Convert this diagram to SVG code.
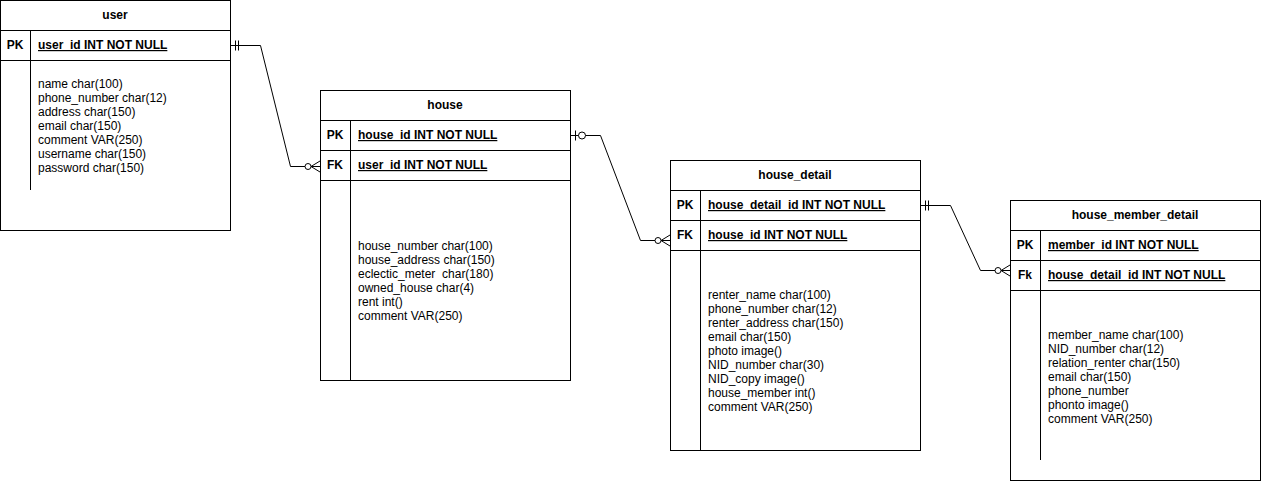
<svg xmlns="http://www.w3.org/2000/svg" width="1261" height="481" viewBox="0 0 1261 481">
<style>
.box{fill:#fff;stroke:#000;stroke-width:1}
.ln{fill:none;stroke:#000;stroke-width:1}
.t{font-family:"Liberation Sans",Arial,Helvetica,sans-serif;font-size:12px;fill:#000}
.b{font-weight:bold}
.c{text-anchor:middle}
.u{text-decoration:underline}
.con{fill:none;stroke:#000;stroke-width:1}
.circ{fill:#fff;stroke:#000;stroke-width:1}
</style>
<rect width="1261" height="481" fill="#fff"/>
<g id="connectors">
  <!-- user.user_id -> house.user_id -->
  <path class="con" d="M230.5,45.5 H260.5 L290.5,166.5 H320"/>
  <path class="con" d="M235.5,40.5 V50.5 M238.5,40.5 V50.5"/>
  <circle class="circ" cx="308" cy="166.5" r="3"/>
  <path class="con" d="M311,166.5 L320,161 M311,166.5 L320,172"/>
  <!-- house.house_id -> house_detail.house_id -->
  <path class="con" d="M570.5,135.5 H600.5 L640.5,240.5 H670"/>
  <path class="con" d="M575.5,130.5 V140.5"/>
  <circle class="circ" cx="582" cy="135.5" r="3.5"/>
  <circle class="circ" cx="658" cy="240.5" r="3"/>
  <path class="con" d="M661,240.5 L670,235 M661,240.5 L670,246"/>
  <!-- house_detail.house_detail_id -> house_member_detail.house_detail_id -->
  <path class="con" d="M920.5,205.5 H950.5 L980.5,270.5 H1010"/>
  <path class="con" d="M925.5,200.5 V210.5 M928.5,200.5 V210.5"/>
  <circle class="circ" cx="998" cy="270.5" r="3"/>
  <path class="con" d="M1001,270.5 L1010,265 M1001,270.5 L1010,276"/>
</g>
<g id="user">
  <rect class="box" x="0.5" y="0.5" width="230" height="230"/>
  <path class="ln" d="M0.5,30.5 H230.5 M0.5,60.5 H230.5 M30.5,30.5 V60.5 M30.5,60.5 V190"/>
  <text class="t b c" x="115" y="19">user</text>
  <text class="t b c" x="15" y="49">PK</text>
  <text class="t b u" x="38" y="49">user_id INT NOT NULL</text>
  <text class="t" x="38" y="88">
    <tspan x="38" dy="0">name char(100)</tspan>
    <tspan x="38" dy="14">phone_number char(12)</tspan>
    <tspan x="38" dy="14">address char(150)</tspan>
    <tspan x="38" dy="14">email char(150)</tspan>
    <tspan x="38" dy="14">comment VAR(250)</tspan>
    <tspan x="38" dy="14">username char(150)</tspan>
    <tspan x="38" dy="14">password char(150)</tspan>
  </text>
</g>
<g id="house">
  <rect class="box" x="320.5" y="90.5" width="250" height="290"/>
  <path class="ln" d="M320.5,120.5 H570.5 M320.5,150.5 H570.5 M320.5,180.5 H570.5 M350.5,120.5 V380.5"/>
  <text class="t b c" x="445" y="109">house</text>
  <text class="t b c" x="335" y="139">PK</text>
  <text class="t b u" x="358" y="139">house_id INT NOT NULL</text>
  <text class="t b c" x="335" y="169">FK</text>
  <text class="t b u" x="358" y="169">user_id INT NOT NULL</text>
  <text class="t" x="358" y="250">
    <tspan x="358" dy="0">house_number char(100)</tspan>
    <tspan x="358" dy="14">house_address char(150)</tspan>
    <tspan x="358" dy="14" xml:space="preserve">eclectic_meter  char(180)</tspan>
    <tspan x="358" dy="14">owned_house char(4)</tspan>
    <tspan x="358" dy="14">rent int()</tspan>
    <tspan x="358" dy="14">comment VAR(250)</tspan>
  </text>
</g>
<g id="house_detail">
  <rect class="box" x="670.5" y="160.5" width="250" height="290"/>
  <path class="ln" d="M670.5,190.5 H920.5 M670.5,220.5 H920.5 M670.5,250.5 H920.5 M700.5,190.5 V450.5"/>
  <text class="t b c" x="795" y="179">house_detail</text>
  <text class="t b c" x="685" y="209">PK</text>
  <text class="t b u" x="708" y="209">house_detail_id INT NOT NULL</text>
  <text class="t b c" x="685" y="239">FK</text>
  <text class="t b u" x="708" y="239">house_id INT NOT NULL</text>
  <text class="t" x="708" y="299">
    <tspan x="708" dy="0">renter_name char(100)</tspan>
    <tspan x="708" dy="14">phone_number char(12)</tspan>
    <tspan x="708" dy="14">renter_address char(150)</tspan>
    <tspan x="708" dy="14">email char(150)</tspan>
    <tspan x="708" dy="14">photo image()</tspan>
    <tspan x="708" dy="14">NID_number char(30)</tspan>
    <tspan x="708" dy="14">NID_copy image()</tspan>
    <tspan x="708" dy="14">house_member int()</tspan>
    <tspan x="708" dy="14">comment VAR(250)</tspan>
  </text>
</g>
<g id="house_member_detail">
  <rect class="box" x="1010.5" y="200.5" width="250" height="280"/>
  <path class="ln" d="M1010.5,230.5 H1260.5 M1010.5,260.5 H1260.5 M1010.5,290.5 H1260.5 M1040.5,230.5 V290.5 M1040.5,290.5 V460"/>
  <text class="t b c" x="1135" y="219">house_member_detail</text>
  <text class="t b c" x="1025" y="249">PK</text>
  <text class="t b u" x="1048" y="249">member_id INT NOT NULL</text>
  <text class="t b c" x="1025" y="279">Fk</text>
  <text class="t b u" x="1048" y="279">house_detail_id INT NOT NULL</text>
  <text class="t" x="1048" y="339">
    <tspan x="1048" dy="0">member_name char(100)</tspan>
    <tspan x="1048" dy="14">NID_number char(12)</tspan>
    <tspan x="1048" dy="14">relation_renter char(150)</tspan>
    <tspan x="1048" dy="14">email char(150)</tspan>
    <tspan x="1048" dy="14">phone_number</tspan>
    <tspan x="1048" dy="14">phonto image()</tspan>
    <tspan x="1048" dy="14">comment VAR(250)</tspan>
  </text>
</g>
</svg>
